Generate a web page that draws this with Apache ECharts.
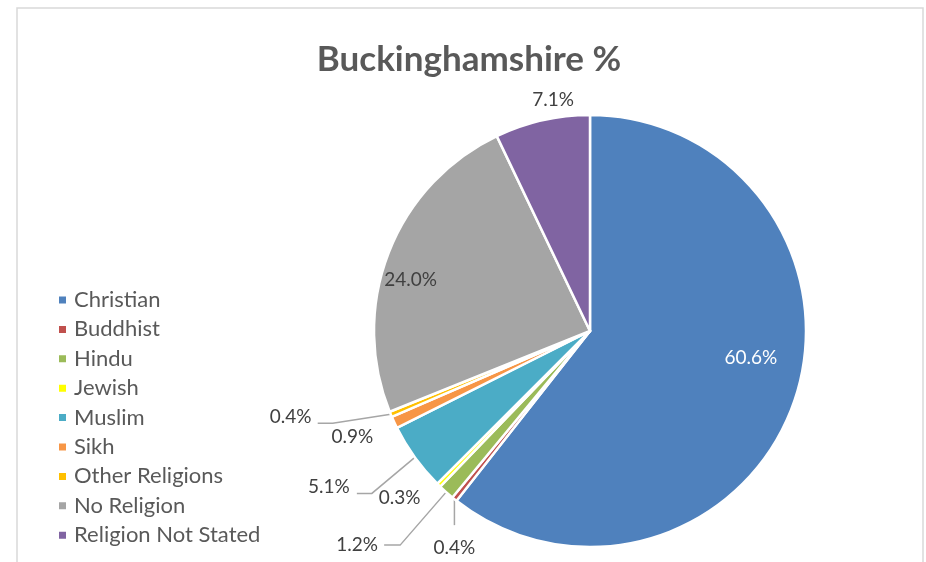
<!DOCTYPE html>
<html><head><meta charset="utf-8">
<script src="https://cdn.jsdelivr.net/npm/echarts@6/dist/echarts.min.js"></script>
<style>html,body{margin:0;padding:0;background:#fff}#c{width:926px;height:562px}</style>
</head><body><div id="c"></div>
<script>
const titleText = 'Buckinghamshire %';
const categories = ['Christian','Buddhist','Hindu','Jewish','Muslim','Sikh','Other Religions','No Religion','Religion Not Stated'];
const values = [60.6, 0.4, 1.2, 0.3, 5.1, 0.9, 0.4, 24.0, 7.1];
const colors = ['#4F81BD','#C0504D','#9BBB59','#FFFF00','#4BACC6','#F79646','#FFC000','#A5A5A5','#8064A2'];

// label placement: offsets relative to each slice's own label anchor
const labelPlacement = [
  {inside:true, dx:56, dy:-9, color:'#ffffff'},
  {line:[[0,26]], at:[0,49]},
  {line:[[-46,53],[-62,53]], at:[-89,53]},
  {at:[-39,13]},
  {line:[[-43,36],[-58,36]], at:[-86,29]},
  {at:[-42,15]},
  {line:[[-58,9],[-73,9]], at:[-100,3]},
  {inside:true, dx:-76, dy:-11},
  {at:[11,-20]}
];

const FONT = 'Lato';
const chart = echarts.init(document.getElementById('c'), null, {renderer:'canvas'});
const data = categories.map((name, i) => {
  const s = labelPlacement[i];
  const item = {name, value: values[i], itemStyle:{color: colors[i]}};
  if (s.inside) {
    item.label = {position:'inside', color: s.color || '#404040'};
  }
  if (!s.line) {
    item.labelLine = {lineStyle:{opacity:0}};
  }
  return item;
});

chart.setOption({
  animation:false,
  backgroundColor:'#ffffff',
  graphic:[{
    type:'rect', shape:{x:17, y:8, width:906, height:620},
    style:{fill:'none', stroke:'#d9d9d9', lineWidth:1.5}, silent:true, z:-1
  }],
  title:{
    text:titleText, left:464, top:37, textAlign:'center',
    textStyle:{fontFamily:FONT, fontSize:35, fontWeight:'bold', color:'#595959'}
  },
  legend:{
    orient:'vertical', left:52, top:284,
    itemWidth:9, itemHeight:9, itemGap:7.4,
    icon:'rect',
    data:categories,
    selectedMode:false,
    textStyle:{fontFamily:FONT, fontSize:22, lineHeight:22, color:'#595959', padding:[0,0,0,2]}
  },
  series:[{
    type:'pie',
    center:[590,331],
    radius:[0,216],
    startAngle:90,
    clockwise:true,
    avoidLabelOverlap:false,
    itemStyle:{borderColor:'#ffffff', borderWidth:2.5},
    label:{show:true, position:'outside', formatter: p => p.value.toFixed(1) + '%',
      fontFamily:FONT, fontSize:19, color:'#404040'},
    labelLine:{show:true, length:10, length2:10, lineStyle:{color:'#a6a6a6', width:1.5}},
    emphasis:{disabled:true},
    labelLayout: function(p){
      const s = labelPlacement[p.dataIndex];
      if (s.inside) return {dx:s.dx, dy:s.dy};
      const pts = p.labelLinePoints;
      if (!pts) return {};
      const e = pts[0];
      const linePts = [[e[0], e[1]]];
      (s.line || [[0,0]]).forEach(o => linePts.push([e[0]+o[0], e[1]+o[1]]));
      if (linePts.length === 2) linePts.push(linePts[1].slice());
      return {x:e[0]+s.at[0], y:e[1]+s.at[1], align:'center', verticalAlign:'middle', labelLinePoints:linePts};
    },
    data:data
  }]
});
</script></body></html>
